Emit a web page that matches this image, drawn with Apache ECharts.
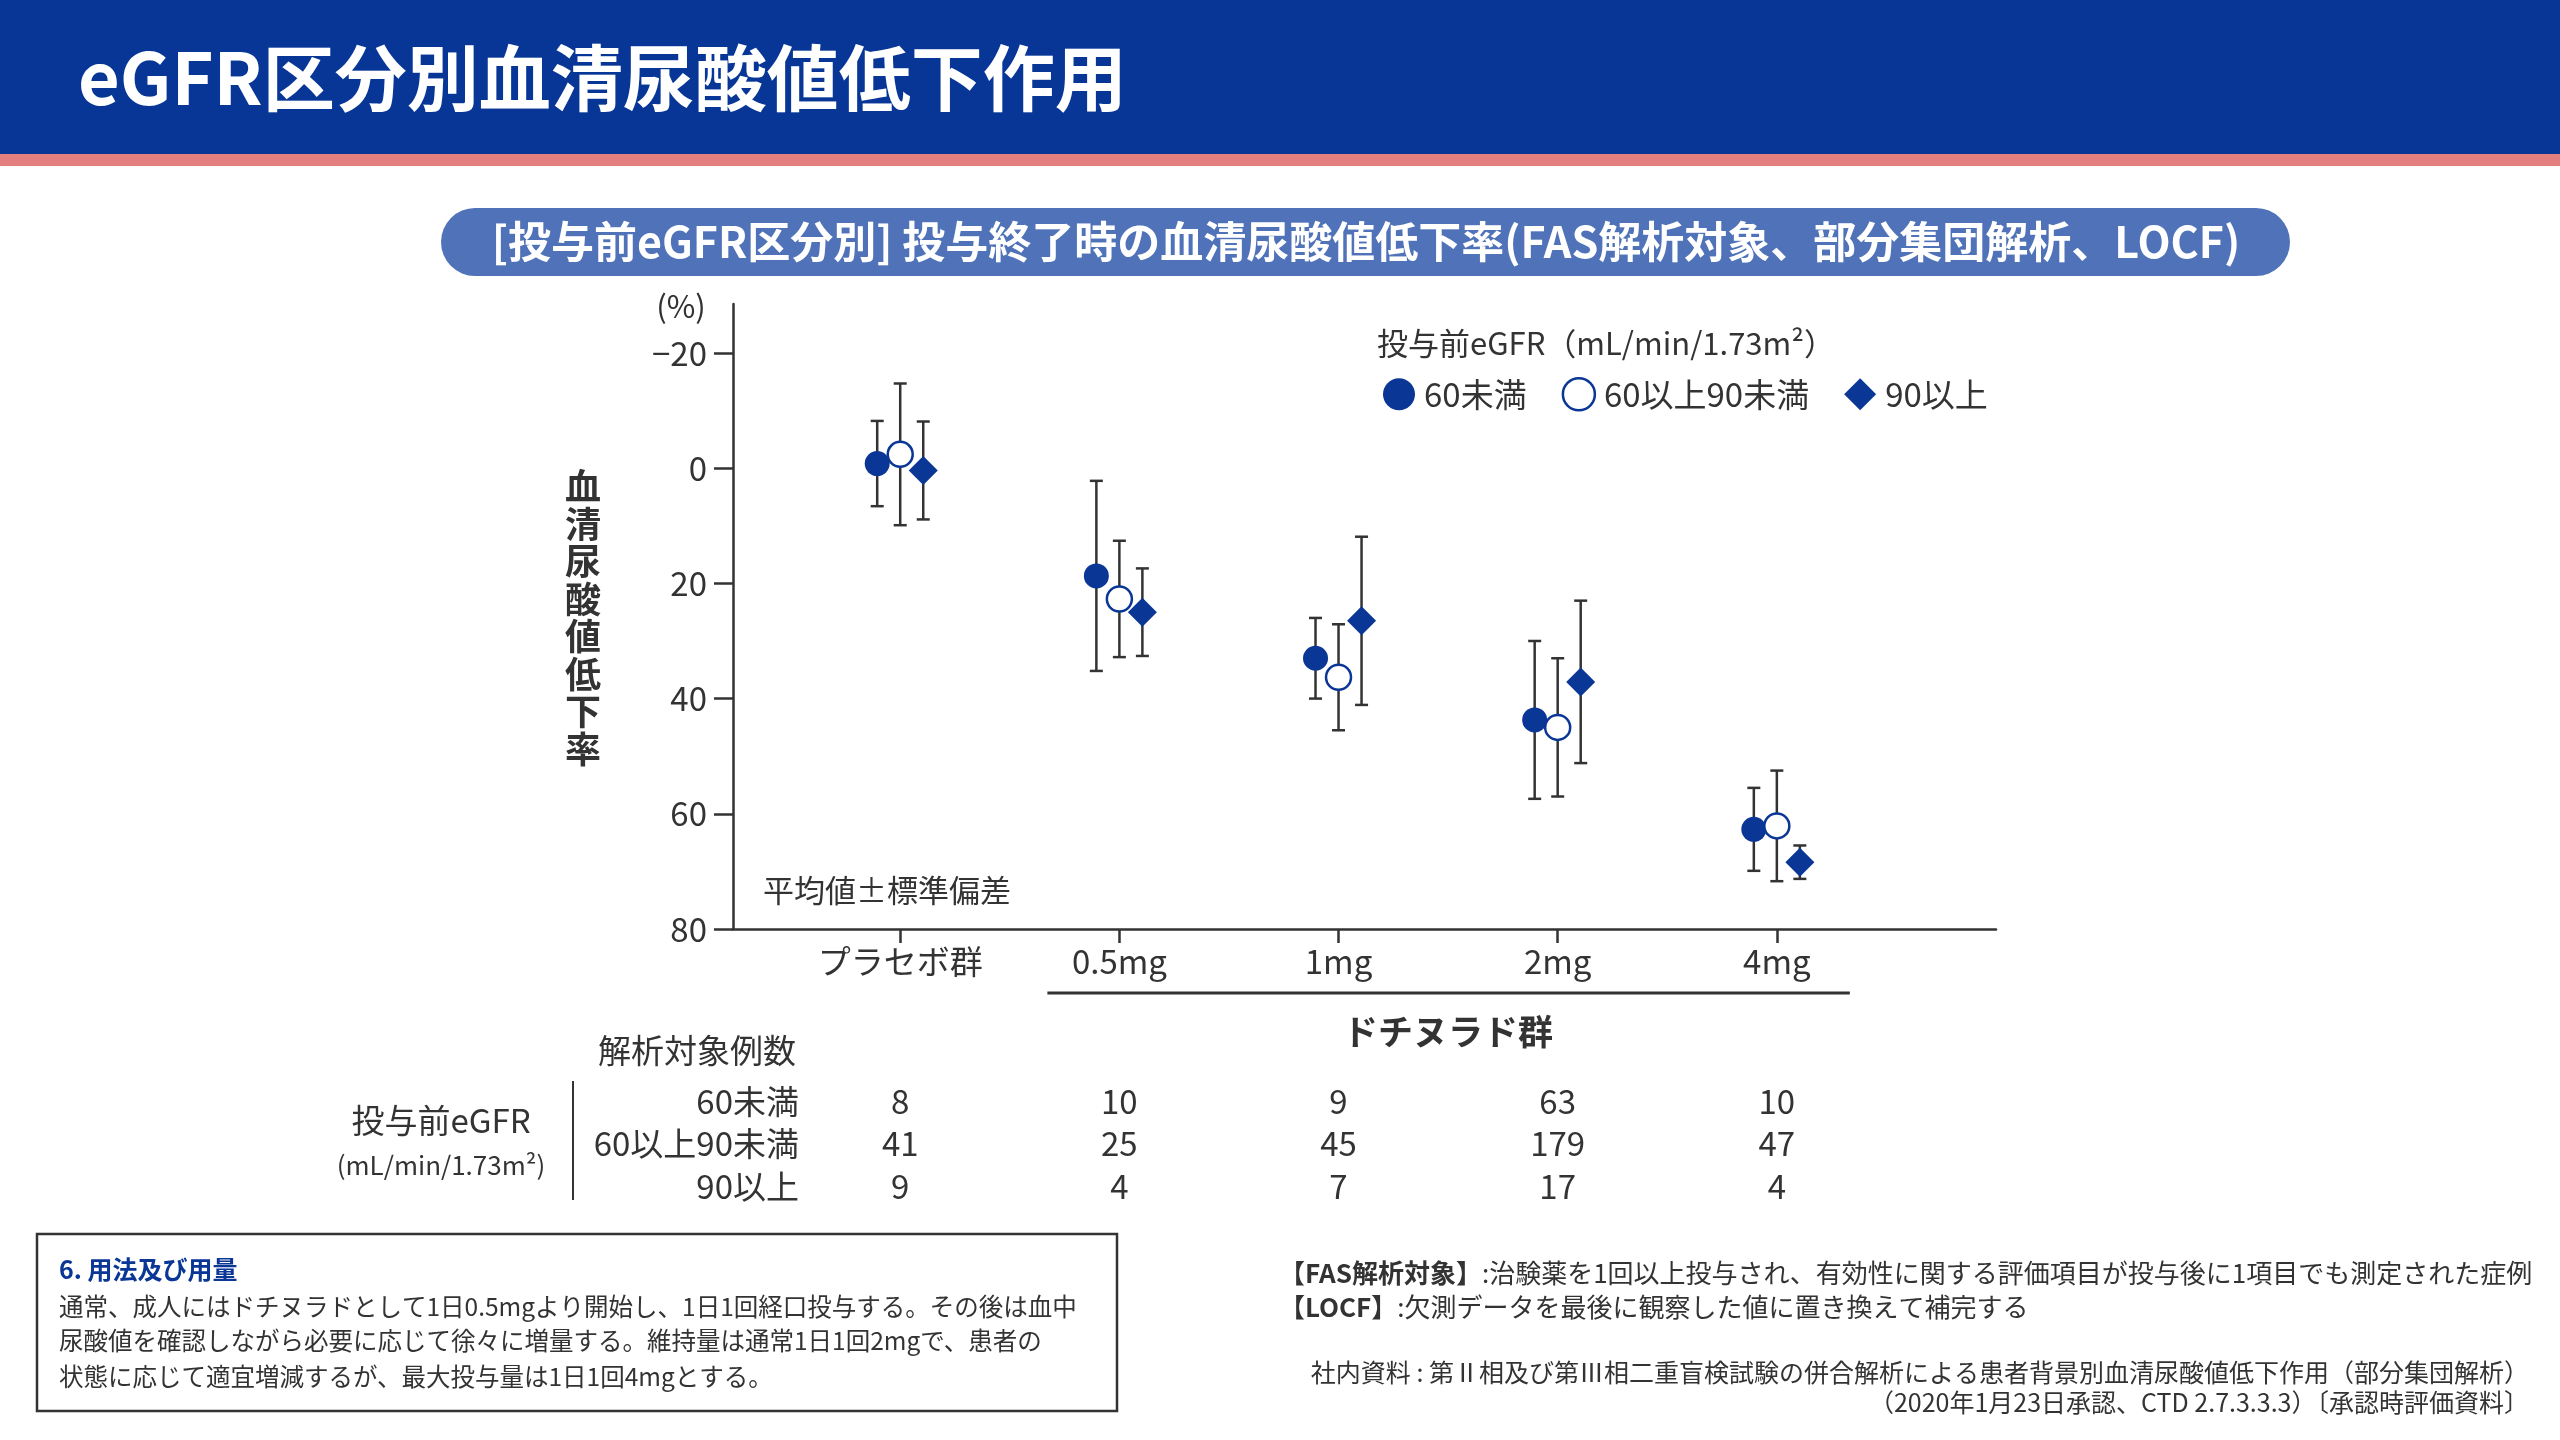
<!DOCTYPE html>
<html>
<head>
<meta charset="utf-8">
<script src="https://cdn.jsdelivr.net/npm/echarts@6/dist/echarts.min.js"></script>
<style>
html,body{margin:0;padding:0;background:#fff;}
#main{width:2560px;height:1440px;}
</style>
</head>
<body>
<div id="main"></div>
<script>
// categories and groups
const categories = ['プラセボ群', '0.5mg', '1mg', '2mg', '4mg'];
const groupNames = ['60未満', '60以上90未満', '90以上'];
const yTicks = [-20, 0, 20, 40, 60, 80];

// mean reduction (%) and SD
const meanLt60 = [-0.8, 18.7, 33.0, 43.7, 62.7];
const sdLt60 = [7.4, 16.5, 7.0, 13.7, 7.2];
const mean60to90 = [-2.4, 22.7, 36.3, 45.0, 62.1];
const sd60to90 = [12.3, 10.1, 9.2, 12.0, 9.6];
const meanGe90 = [0.4, 25.0, 26.5, 37.1, 68.4];
const sdGe90 = [8.5, 7.6, 14.6, 14.1, 2.9];

// number of subjects
const nLt60 = [8, 10, 9, 63, 10];
const n60to90 = [41, 25, 45, 179, 47];
const nGe90 = [9, 4, 7, 17, 4];

const FONT = '"Noto Sans CJK JP", "Noto Sans", sans-serif';
const BLUE = '#0a3696';
const TXT = '#333333';

let myChart = echarts.init(document.getElementById('main'));

const offsets = [-0.105, 0, 0.105];
const means = [meanLt60, mean60to90, meanGe90];
const sds = [sdLt60, sd60to90, sdGe90];

let pointData = function (k) {
    let out = [];
    for (let i = 0; i < categories.length; i++) {
        out.push([i + offsets[k], means[k][i]]);
    }
    return out;
};
let errData = function () {
    let out = [];
    for (let k = 0; k < 3; k++) {
        for (let i = 0; i < categories.length; i++) {
            out.push([i + offsets[k], means[k][i] - sds[k][i], means[k][i] + sds[k][i]]);
        }
    }
    return out;
};

let symbols = ['circle', 'circle', 'diamond'];
let styles = [
    {color: BLUE, opacity: 1},
    {color: '#ffffff', borderColor: BLUE, borderWidth: 2.5, opacity: 1},
    {color: BLUE, opacity: 1}
];

let series = [{
    type: 'custom',
    name: 'err',
    data: errData(),
    z: 1,
    silent: true,
    renderItem: function (params, api) {
        let x = api.value(0);
        let p1 = api.coord([x, api.value(1)]);
        let p2 = api.coord([x, api.value(2)]);
        let cap = 6.5;
        let st = {stroke: '#333', lineWidth: 2.5};
        return {
            type: 'group',
            children: [
                {type: 'line', shape: {x1: p1[0], y1: p1[1], x2: p2[0], y2: p2[1]}, style: st},
                {type: 'line', shape: {x1: p1[0] - cap, y1: p1[1], x2: p1[0] + cap, y2: p1[1]}, style: st},
                {type: 'line', shape: {x1: p2[0] - cap, y1: p2[1], x2: p2[0] + cap, y2: p2[1]}, style: st}
            ]
        };
    }
}];
for (let k = 0; k < 3; k++) {
    series.push({
        type: 'scatter',
        name: groupNames[k],
        symbol: symbols[k],
        symbolSize: k === 2 ? 29 : 25,
        itemStyle: styles[k],
        data: pointData(k),
        z: 3
    });
}

let option = {
    animation: false,
    textStyle: {fontFamily: FONT, color: TXT},
    grid: {left: 733, top: 304, width: 1263, height: 625},
    legend: {
        data: groupNames.map((n, k) => ({
            name: n,
            icon: k === 2 ? 'diamond' : 'circle',
            itemStyle: styles[k]
        })),
        left: 1378, top: 372,
        itemWidth: 32, itemHeight: 32,
        itemGap: 35,
        textStyle: {fontFamily: FONT, fontSize: 33, color: TXT, padding: [0, 0, 0, 4]}
    },
    xAxis: {
        type: 'value',
        min: -0.763, max: 5,
        splitLine: {show: false},
        axisLine: {show: true, onZero: false, lineStyle: {color: '#333', width: 2.5}},
        axisTick: {show: true, customValues: [0, 1, 2, 3, 4], length: 14, lineStyle: {color: '#333', width: 2.5}},
        axisLabel: {
            customValues: [0, 1, 2, 3, 4],
            formatter: v => categories[Math.round(v)],
            fontSize: 33, color: TXT, margin: 16, fontFamily: FONT
        }
    },
    yAxis: {
        type: 'value',
        inverse: true,
        min: -28.5, max: 80,
        splitLine: {show: false},
        axisLine: {show: true, onZero: false, lineStyle: {color: '#333', width: 2.5}},
        axisTick: {show: true, customValues: yTicks, length: 19, lineStyle: {color: '#333', width: 2.5}},
        axisLabel: {
            customValues: yTicks,
            formatter: v => v < 0 ? '−' + Math.abs(v) : String(v),
            fontSize: 33, color: TXT, margin: 26, fontFamily: FONT
        }
    },
    series: series
};

myChart.setOption(option);

// positions of categories from the axis
let cx = categories.map((c, i) => myChart.convertToPixel({xAxisIndex: 0}, i));

let g = [];
// header
g.push({type: 'rect', shape: {x: 0, y: 0, width: 2560, height: 154}, style: {fill: '#073697'}});
g.push({type: 'rect', shape: {x: 0, y: 154, width: 2560, height: 12}, style: {fill: '#e47f7f'}});
g.push({type: 'text', x: 78, y: 78, style: {text: 'eGFR区分別血清尿酸値低下作用', fill: '#fff', font: 'bold 72px ' + FONT, textVerticalAlign: 'middle'}});
// subtitle pill
g.push({type: 'rect', shape: {x: 441, y: 208, width: 1849, height: 68, r: 34}, style: {fill: '#5072b8'}});
g.push({type: 'text', x: 1366, y: 242, style: {text: '[投与前eGFR区分別] 投与終了時の血清尿酸値低下率(FAS解析対象、部分集団解析、LOCF)', fill: '#fff', font: 'bold 43px ' + FONT, textAlign: 'center', textVerticalAlign: 'middle'}});

// axis annotations
g.push({type: 'text', x: 681, y: 306, style: {text: '(%)', fill: TXT, font: '31px ' + FONT, textAlign: 'center', textVerticalAlign: 'middle'}});
g.push({type: 'text', x: 583, y: 618, style: {text: '血\n清\n尿\n酸\n値\n低\n下\n率', fill: TXT, font: 'bold 36px ' + FONT, lineHeight: 37.5, textAlign: 'center', textVerticalAlign: 'middle'}});
g.push({type: 'text', x: 763, y: 890, style: {text: '平均値±標準偏差', fill: TXT, font: '31px ' + FONT, textVerticalAlign: 'middle'}});
g.push({type: 'text', x: 1377, y: 343, style: {text: '投与前eGFR（mL/min/1.73m²）', fill: TXT, font: '31px ' + FONT, textVerticalAlign: 'middle'}});

// drug group bracket
g.push({type: 'line', shape: {x1: cx[1] - 72, y1: 993, x2: cx[4] + 73, y2: 993}, style: {stroke: '#333', lineWidth: 3}});
g.push({type: 'text', x: (cx[1] + cx[4]) / 2, y: 1032, style: {text: 'ドチヌラド群', fill: TXT, font: 'bold 35px ' + FONT, textAlign: 'center', textVerticalAlign: 'middle'}});

// sample size table
g.push({type: 'text', x: 697, y: 1050, style: {text: '解析対象例数', fill: TXT, font: '33px ' + FONT, textAlign: 'center', textVerticalAlign: 'middle'}});
g.push({type: 'text', x: 441, y: 1120, style: {text: '投与前eGFR', fill: TXT, font: '33px ' + FONT, textAlign: 'center', textVerticalAlign: 'middle'}});
g.push({type: 'text', x: 441, y: 1165, style: {text: '(mL/min/1.73m²)', fill: TXT, font: '26px ' + FONT, textAlign: 'center', textVerticalAlign: 'middle'}});
g.push({type: 'line', shape: {x1: 573, y1: 1081, x2: 573, y2: 1200}, style: {stroke: '#333', lineWidth: 2}});
let rowsY = [1101, 1143, 1186];
let counts = [nLt60, n60to90, nGe90];
for (let r = 0; r < 3; r++) {
    g.push({type: 'text', x: 799, y: rowsY[r], style: {text: groupNames[r], fill: TXT, font: '33px ' + FONT, textAlign: 'right', textVerticalAlign: 'middle'}});
    for (let i = 0; i < categories.length; i++) {
        g.push({type: 'text', x: cx[i], y: rowsY[r], style: {text: String(counts[r][i]), fill: TXT, font: '33px ' + FONT, textAlign: 'center', textVerticalAlign: 'middle'}});
    }
}

// dosage box
g.push({type: 'rect', shape: {x: 37, y: 1234, width: 1080, height: 177}, style: {fill: 'none', stroke: '#333', lineWidth: 2.5}});
g.push({type: 'text', x: 59, y: 1269, style: {text: '6. 用法及び用量', fill: BLUE, font: 'bold 25px ' + FONT, textVerticalAlign: 'middle'}});
let bodyLines = [
    '通常、成人にはドチヌラドとして1日0.5mgより開始し、1日1回経口投与する。その後は血中',
    '尿酸値を確認しながら必要に応じて徐々に増量する。維持量は通常1日1回2mgで、患者の',
    '状態に応じて適宜増減するが、最大投与量は1日1回4mgとする。'
];
[1307, 1341, 1377].forEach((y, i) => {
    g.push({type: 'text', x: 59, y: y, style: {text: bodyLines[i], fill: TXT, font: '24.5px ' + FONT, textVerticalAlign: 'middle'}});
});

// notes
g.push({type: 'text', x: 1279, y: 1273, style: {
    text: '{b|【FAS解析対象】}:治験薬を1回以上投与され、有効性に関する評価項目が投与後に1項目でも測定された症例',
    rich: {b: {font: 'bold 26px ' + FONT, fill: TXT}},
    font: '26px ' + FONT, fill: TXT, textVerticalAlign: 'middle'}});
g.push({type: 'text', x: 1279, y: 1307, style: {
    text: '{b|【LOCF】}:欠測データを最後に観察した値に置き換えて補完する',
    rich: {b: {font: 'bold 26px ' + FONT, fill: TXT}},
    font: '26px ' + FONT, fill: TXT, textVerticalAlign: 'middle'}});
g.push({type: 'text', x: 2529, y: 1372, style: {text: '社内資料 : 第Ⅱ相及び第Ⅲ相二重盲検試験の併合解析による患者背景別血清尿酸値低下作用（部分集団解析）', fill: TXT, font: '25px ' + FONT, textAlign: 'right', textVerticalAlign: 'middle'}});
g.push({type: 'text', x: 2529, y: 1402, style: {text: '（2020年1月23日承認、CTD 2.7.3.3.3）〔承認時評価資料〕', fill: TXT, font: '25px ' + FONT, textAlign: 'right', textVerticalAlign: 'middle'}});

myChart.setOption({graphic: {elements: g}});
</script>
</body>
</html>
